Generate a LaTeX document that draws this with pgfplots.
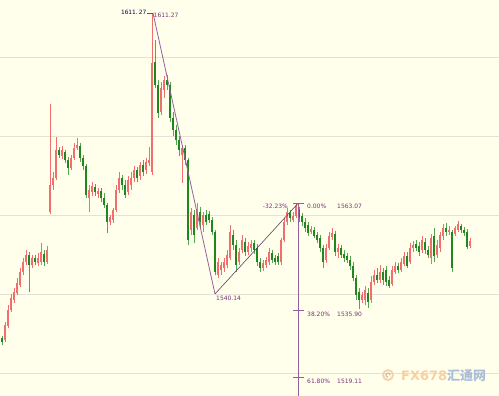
\documentclass[border=0pt]{standalone}
\usepackage{fontspec}
\setmainfont{DejaVu Sans}
\newfontfamily\cjk{Noto Sans CJK SC}
\usepackage{pgfplots}
\usepackage{pgfplotstable}
\pgfplotsset{compat=1.18}
\definecolor{bgc}{RGB}{255,255,236}
\definecolor{gridc}{RGB}{228,226,212}
\definecolor{upc}{RGB}{240,110,110}
\definecolor{dnc}{RGB}{30,135,30}
\definecolor{purp}{RGB}{150,95,160}
\definecolor{purpt}{RGB}{120,50,120}
\definecolor{wmor}{RGB}{250,208,160}
\definecolor{wmbl}{RGB}{172,190,214}
\pgfplotstableread{
x o h l c
5 1528.5 1533.0 1528.0 1532.3
8 1532.0 1537.3 1531.5 1536.1
11 1536.1 1540.1 1535.6 1539.1
14 1538.6 1541.7 1537.9 1540.6
17 1540.4 1544.2 1539.9 1542.9
20 1542.4 1546.7 1541.9 1545.7
23 1545.7 1549.2 1544.9 1548.2
26 1548.2 1551.3 1547.5 1550.0
32 1547.5 1550.0 1546.7 1549.2
38 1548.0 1550.5 1547.2 1549.2
41 1548.2 1553.0 1547.5 1550.8
47 1548.2 1552.3 1547.7 1551.3
50 1560.9 1588.2 1560.4 1567.7
53 1567.7 1571.0 1566.5 1569.5
56 1569.5 1579.9 1569.0 1576.6
62 1575.1 1577.6 1574.3 1576.6
71 1572.0 1575.3 1571.5 1574.6
74 1574.6 1578.4 1574.1 1577.1
77 1577.1 1579.6 1576.6 1577.9
89 1564.4 1567.7 1560.9 1566.5
92 1566.0 1568.5 1564.9 1567.5
98 1565.5 1567.0 1564.4 1566.2
110 1558.4 1560.1 1557.6 1559.6
113 1558.9 1561.9 1558.1 1561.4
116 1561.4 1567.7 1560.9 1566.5
119 1566.5 1571.0 1565.7 1569.5
128 1566.0 1570.0 1565.2 1569.0
131 1567.7 1571.0 1566.5 1569.5
134 1569.5 1572.5 1568.5 1571.5
140 1570.0 1573.6 1569.0 1572.8
146 1571.5 1574.6 1570.5 1573.6
149 1573.3 1577.4 1572.5 1574.1
152 1571.0 1611.27 1570.3 1598.6
161 1586.2 1593.8 1585.5 1592.3
164 1591.8 1595.3 1589.8 1594.3
182 1575.3 1577.9 1568.2 1577.1
191 1556.3 1561.9 1555.1 1560.9
197 1556.8 1563.2 1556.3 1561.4
203 1557.6 1560.9 1555.8 1560.1
218 1544.9 1549.2 1544.2 1548.2
221 1546.2 1548.2 1544.9 1547.5
224 1546.7 1549.2 1545.7 1548.2
227 1547.5 1551.3 1546.7 1550.0
230 1549.2 1557.6 1548.7 1555.8
239 1548.2 1551.8 1547.5 1550.8
242 1551.3 1555.1 1550.5 1553.8
248 1550.8 1553.3 1550.0 1552.3
251 1551.8 1553.8 1550.8 1552.8
263 1546.7 1548.7 1546.0 1548.0
266 1547.5 1549.5 1546.7 1548.7
269 1548.2 1551.8 1547.5 1550.8
281 1548.2 1554.3 1547.5 1553.8
284 1553.8 1559.4 1553.3 1558.4
287 1558.4 1561.9 1557.6 1560.9
293 1558.9 1560.9 1558.4 1559.9
296 1559.9 1563.07 1559.4 1562.4
311 1555.8 1557.4 1555.3 1556.6
326 1548.7 1552.8 1548.0 1551.8
329 1551.8 1555.8 1551.3 1554.8
332 1554.6 1556.8 1553.8 1555.6
338 1550.8 1552.8 1549.2 1551.8
362 1538.6 1540.6 1537.9 1539.9
365 1538.6 1542.2 1537.3 1541.1
371 1538.6 1544.7 1537.9 1543.2
374 1543.2 1546.2 1542.4 1544.9
380 1543.7 1547.5 1542.9 1545.7
392 1542.7 1547.2 1542.2 1546.2
395 1545.7 1548.2 1545.2 1547.2
401 1546.2 1549.2 1545.7 1548.2
404 1547.7 1550.8 1547.2 1549.8
410 1548.2 1553.0 1547.7 1551.8
413 1551.8 1553.6 1550.8 1552.5
422 1551.3 1554.8 1550.5 1553.8
431 1549.2 1555.3 1547.7 1554.3
437 1550.0 1553.8 1549.2 1552.5
440 1551.8 1555.8 1550.8 1555.1
443 1554.8 1557.9 1553.8 1556.8
449 1555.8 1557.4 1555.1 1556.3
455 1555.3 1557.4 1554.8 1556.8
458 1556.3 1558.6 1555.8 1557.9
470 1552.3 1554.3 1551.8 1553.6
}\up
\pgfplotstableread{
x o h l c
2 1529.0 1529.5 1527.2 1528.0
29 1550.0 1550.8 1540.6 1547.5
35 1549.2 1550.0 1547.5 1548.2
44 1550.3 1551.3 1547.2 1548.2
59 1576.6 1577.4 1574.6 1575.3
65 1576.1 1576.6 1573.3 1574.1
68 1574.1 1574.8 1570.3 1572.0
80 1577.6 1578.4 1573.6 1574.6
83 1574.6 1575.3 1571.5 1572.5
86 1572.5 1573.1 1564.4 1565.2
95 1567.2 1568.0 1564.9 1566.0
101 1566.2 1567.0 1563.4 1564.4
104 1564.4 1565.7 1561.9 1562.7
107 1562.7 1563.2 1555.6 1558.4
122 1569.5 1570.3 1566.5 1567.7
125 1567.7 1569.0 1564.4 1565.2
137 1571.5 1572.3 1568.5 1569.5
143 1572.8 1574.1 1570.0 1571.0
155 1598.9 1604.4 1592.3 1593.1
158 1593.1 1594.3 1584.7 1586.0
167 1594.3 1595.6 1591.8 1593.1
170 1593.1 1593.8 1583.7 1584.7
173 1584.7 1586.2 1580.1 1581.7
176 1581.7 1582.9 1577.9 1579.1
179 1579.1 1580.1 1575.1 1576.6
185 1577.1 1577.9 1572.8 1574.1
188 1574.1 1574.6 1552.5 1553.8
194 1560.1 1561.4 1553.0 1555.1
200 1560.9 1562.2 1556.8 1558.4
206 1560.1 1561.4 1557.6 1558.4
209 1560.4 1561.1 1558.1 1558.9
212 1558.9 1559.6 1555.1 1555.8
215 1555.8 1556.3 1544.9 1545.7
233 1555.1 1556.3 1551.3 1552.5
236 1552.5 1553.8 1545.7 1547.5
245 1553.3 1554.3 1549.8 1550.8
254 1553.0 1553.8 1550.3 1551.3
257 1551.8 1552.8 1547.2 1548.2
260 1548.2 1549.2 1545.7 1546.7
272 1550.5 1551.3 1548.0 1548.7
275 1549.2 1550.0 1547.5 1548.2
278 1549.8 1550.5 1547.5 1548.2
290 1560.6 1561.4 1558.4 1559.4
299 1561.4 1562.2 1558.4 1559.4
302 1559.9 1560.6 1557.4 1558.4
305 1558.4 1559.4 1555.8 1556.8
308 1557.6 1558.4 1554.8 1555.6
314 1556.3 1557.1 1554.3 1554.8
317 1555.1 1555.8 1553.0 1553.8
320 1554.3 1555.1 1550.8 1551.8
323 1551.8 1552.5 1546.7 1548.2
335 1555.3 1556.1 1549.8 1550.8
341 1551.8 1552.5 1549.2 1550.0
344 1550.3 1551.3 1548.2 1549.2
347 1549.8 1550.5 1548.0 1548.7
350 1548.7 1549.8 1546.2 1547.2
353 1547.2 1548.2 1543.4 1544.2
356 1544.2 1544.9 1538.6 1539.9
359 1540.6 1541.7 1536.3 1538.6
368 1540.4 1541.7 1536.6 1538.1
377 1544.9 1546.7 1542.9 1543.7
383 1545.7 1546.7 1542.4 1543.7
386 1546.2 1547.2 1542.2 1543.2
389 1543.7 1544.7 1541.7 1542.2
398 1547.2 1548.0 1545.5 1546.2
407 1549.8 1550.8 1546.7 1547.2
416 1552.8 1553.8 1551.0 1551.8
419 1552.3 1553.3 1549.8 1550.8
425 1553.3 1554.3 1550.3 1551.3
428 1551.3 1552.3 1549.2 1550.0
434 1554.8 1556.8 1548.2 1549.8
446 1556.8 1558.1 1554.8 1555.8
452 1555.8 1556.3 1545.7 1546.7
461 1557.4 1557.9 1555.6 1556.3
464 1556.3 1557.1 1554.8 1555.6
467 1555.8 1556.6 1551.5 1552.0
}\down
\pgfplotsset{
  candle/.style 2 args={draw=none, mark=none, forget plot,
    error bars/.cd, y dir=plus, y explicit, error mark=none,
    error bar style={line width=#2, draw=#1}},
}
\begin{document}
\begin{tikzpicture}
\begin{axis}[
  scale only axis, width=499bp, height=396bp,
  xmin=0, xmax=499, ymin=1514.3, ymax=1614.57,
  axis line style={draw=none},
  xtick=\empty,
  ytick={1520,1540,1560,1580,1600},
  yticklabels={},
  major tick length=0pt,
  ymajorgrids, grid style={draw=gridc, line width=0.9bp},
  axis background/.style={fill=bgc},
  clip=false,
]
% wicks
\addplot[candle={upc}{0.9bp}] table[x=x, y=l, y error plus expr=\thisrow{h}-\thisrow{l}] {\up};
\addplot[candle={dnc!75!white}{0.9bp}] table[x=x, y=l, y error plus expr=\thisrow{h}-\thisrow{l}] {\down};
% bodies
\addplot[candle={upc}{2.5bp}] table[x=x, y=o, y error plus expr=\thisrow{c}-\thisrow{o}] {\up};
\addplot[candle={dnc}{2.5bp}] table[x=x, y=c, y error plus expr=\thisrow{o}-\thisrow{c}] {\down};

% annotation lines
\draw[purp, line width=0.8bp] (axis cs:153,1611.27) -- (axis cs:215,1540.14);
\draw[purp!55!black, line width=0.55bp] (axis cs:215,1540.14) -- (axis cs:298,1563.07);
\draw[purp, line width=0.8bp] (axis cs:298,1563.07) -- (axis cs:298,1514.3);
\draw[purp, line width=0.8bp] (axis cs:293,1563.07) -- (axis cs:304,1563.07);
\draw[purp, line width=0.8bp] (axis cs:293,1535.90) -- (axis cs:304,1535.90);
\draw[purp, line width=0.8bp] (axis cs:293,1519.11) -- (axis cs:304,1519.11);
\draw[black!65, line width=0.6bp] (axis cs:147,1611.27) -- (axis cs:153,1611.27);

% labels
\node[anchor=east, inner sep=0, text=black!60!blue!70!black, font=\fontsize{5.9}{6}\selectfont] at (axis cs:146.5,1611.45) {1611.\,27};
\node[anchor=west, inner sep=0, text=purpt, font=\fontsize{6}{6}\selectfont] at (axis cs:153.5,1610.7) {1611.27};
\node[anchor=west, inner sep=0, text=purpt, font=\fontsize{6}{6}\selectfont] at (axis cs:216,1539.0) {1540.14};
\node[anchor=east, inner sep=0, text=purpt, font=\fontsize{6}{6}\selectfont] at (axis cs:288,1562.3) {-32.23\%};
\node[anchor=west, inner sep=0, text=purpt, font=\fontsize{6}{6}\selectfont] at (axis cs:307,1562.3) {0.00\%};
\node[anchor=west, inner sep=0, text=purpt, font=\fontsize{6}{6}\selectfont] at (axis cs:337,1562.3) {1563.07};
\node[anchor=west, inner sep=0, text=purpt, font=\fontsize{6}{6}\selectfont] at (axis cs:307,1535.0) {38.20\%};
\node[anchor=west, inner sep=0, text=purpt, font=\fontsize{6}{6}\selectfont] at (axis cs:337,1535.0) {1535.90};
\node[anchor=west, inner sep=0, text=purpt, font=\fontsize{6}{6}\selectfont] at (axis cs:307,1518.0) {61.80\%};
\node[anchor=west, inner sep=0, text=purpt, font=\fontsize{6}{6}\selectfont] at (axis cs:337,1518.0) {1519.11};

% watermark
\draw[wmor, line width=1.8bp] (axis cs:388,1519.6) circle[radius=5bp];
\draw[black!25, line width=1.2bp] (axis cs:388,1519.6) ++(0:2bp) arc[start angle=0, end angle=270, radius=2bp];
\node[anchor=base west, inner sep=0, text=wmor, font=\fontsize{13}{13}\selectfont\bfseries] at (axis cs:401,1518.3) {FX678};
\node[anchor=base west, inner sep=0, text=wmbl, font=\cjk\fontsize{13}{13}\selectfont\bfseries] at (axis cs:447,1518.2) {汇通网};
\end{axis}
\pgfresetboundingbox
\path[use as bounding box] (current axis.south west) rectangle (current axis.north east);
\end{tikzpicture}
\end{document}
